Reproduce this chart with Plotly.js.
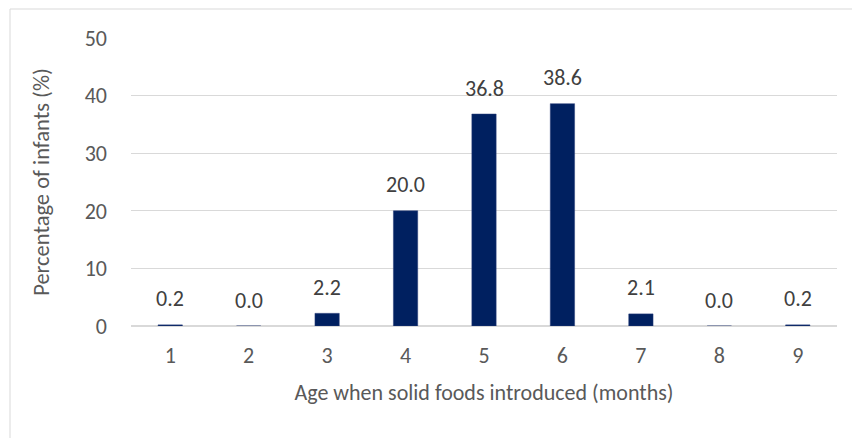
<!DOCTYPE html>
<html><head><meta charset="utf-8">
<script src="https://cdn.plot.ly/plotly-3.0.1.min.js"></script>
<style>body{margin:0;padding:0;background:#fff}#chart{width:852px;height:438px}</style>
</head><body><div id="chart"></div>
<script>
const categories = ['1','2','3','4','5','6','7','8','9'];
const percentages = [0.2, 0.0, 2.2, 20.0, 36.8, 38.6, 2.1, 0.0, 0.2];
const yTicks = [0, 10, 20, 30, 40, 50];

const textColor = '#595959';
const fontFam = 'Carlito, Calibri, "Open Sans", "Noto Sans", sans-serif';

const trace = {
  type: 'bar', x: categories, y: percentages,
  marker: {color: '#002060', line: {color: '#2a3f7a', width: 0.5}},
  hoverinfo: 'x+y'
};

const annotations = categories.map((c, i) => ({
  x: i, y: percentages[i], xref: 'x', yref: 'y',
  text: percentages[i].toFixed(1), showarrow: false,
  yanchor: 'middle', yshift: 26,
  font: {family: fontFam, size: 22, color: '#404040'}
}));

const layout = {
  width: 852, height: 438,
  margin: {l: 131, r: 15, t: 38, b: 112},
  paper_bgcolor: '#fff', plot_bgcolor: '#fff',
  bargap: 0.69,
  showlegend: false,
  font: {family: fontFam, color: textColor},
  xaxis: {
    type: 'category', range: [-0.5, 8.5], fixedrange: true,
    showgrid: false, zeroline: false,
    showline: false, ticks: '',
    tickfont: {size: 22, color: textColor}, ticklabelstandoff: 14,
    title: {text: 'Age when solid foods introduced (months)', font: {size: 22, color: textColor}, standoff: 16}
  },
  yaxis: {
    range: [0, 50], tickvals: yTicks, ticktext: yTicks.map(String),
    showgrid: true, gridcolor: '#d9d9d9', gridwidth: 1,
    zeroline: true, zerolinecolor: '#d9d9d9', zerolinewidth: 1.5,
    showline: false, ticks: '',
    tickfont: {size: 22, color: textColor}, ticklabelstandoff: 23,
    title: {text: 'Percentage of infants (%)', font: {size: 22.5, color: textColor}, standoff: 28}
  },
  annotations: annotations,
  shapes: [{
    type: 'rect', xref: 'paper', yref: 'paper',
    x0: (10 - 131) / 706, x1: 1.1, y0: -0.5, y1: (326 - 9) / 288,
    line: {color: '#d9d9d9', width: 1}, fillcolor: 'rgba(0,0,0,0)', layer: 'below'
  }]
};

Plotly.newPlot('chart', [trace], layout, {displayModeBar: false, staticPlot: true});
</script></body></html>
